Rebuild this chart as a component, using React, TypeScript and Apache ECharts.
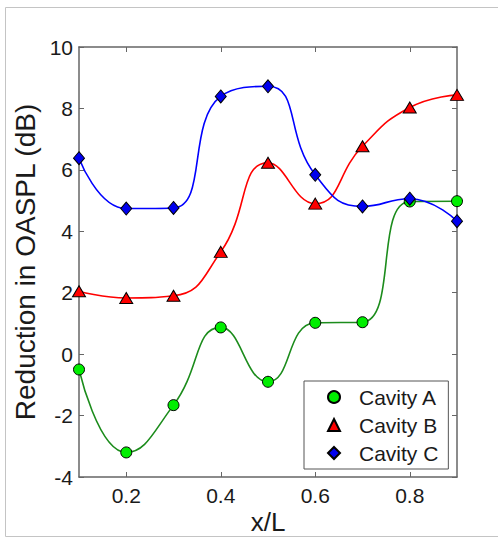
import React, { useEffect, useRef } from "react";
import * as echarts from "echarts";

const xValues = [0.1, 0.2, 0.3, 0.4, 0.5, 0.6, 0.7, 0.8, 0.9];
const cavityA = [-0.5, -3.2, -1.66, 0.87, -0.9, 1.02, 1.04, 4.97, 4.98];
const cavityB = [2.05, 1.83, 1.9, 3.33, 6.23, 4.9, 6.77, 8.03, 8.44];
const cavityC = [6.38, 4.74, 4.76, 8.39, 8.72, 5.84, 4.81, 5.06, 4.33];
const xTicks = [0.2, 0.4, 0.6, 0.8];
const seriesNames = ["Cavity A", "Cavity B", "Cavity C"];

const FONT = "Liberation Sans, Arial, Helvetica, sans-serif";

export default function App() {
  const ref = useRef<HTMLDivElement>(null);
  useEffect(() => {
    if (!ref.current) return;
    const chart = echarts.init(ref.current, null, { renderer: "svg" });
    const pairs = (ys: number[]) => xValues.map((x, i) => [x, ys[i]]);
    const axisColor = "#666666";
    const gridL = 79, gridT = 47, gridR = 41, gridB = 61;
    const baseX = {
      type: "value",
      min: 0.1,
      max: 0.9,
      splitLine: { show: false },
      axisLine: { onZero: false, lineStyle: { color: axisColor, width: 1.5 } },
      axisTick: { inside: true, length: 5, customValues: xTicks, lineStyle: { color: axisColor } },
    };
    const baseY = {
      type: "value",
      min: -4,
      max: 10,
      interval: 2,
      splitLine: { show: false },
      axisLine: { onZero: false, lineStyle: { color: axisColor, width: 1.5 } },
      axisTick: { inside: true, length: 5, lineStyle: { color: axisColor } },
    };
    const mk = (name: string, data: number[], line: string, fill: string, symbol: string, size: any) => ({
      name,
      type: "line",
      data: pairs(data),
      smooth: 0.5,
      symbol,
      symbolSize: size,
      showSymbol: true,
      lineStyle: { color: line, width: 1.6 },
      itemStyle: { color: fill, borderColor: "#000", borderWidth: 1 },
      emphasis: { disabled: true },
    });
    chart.setOption({
      animation: false,
      backgroundColor: "#ffffff",
      grid: { left: gridL, top: gridT, right: gridR, bottom: gridB },
      xAxis: [
        {
          ...baseX,
          position: "bottom",
          axisLabel: {
            customValues: xTicks,
            formatter: (v: number) => v.toFixed(1),
            color: "#1a1a1a",
            fontSize: 21,
            fontFamily: FONT,
            margin: 8,
          },
        },
        { ...baseX, position: "top", axisLabel: { show: false } },
      ],
      yAxis: [
        {
          ...baseY,
          position: "left",
          axisLabel: { color: "#1a1a1a", fontSize: 21, fontFamily: FONT, margin: 6 },
        },
        { ...baseY, position: "right", axisLabel: { show: false } },
      ],
      legend: {
        orient: "vertical",
        left: 304,
        top: 381,
        padding: [5, 10, 5, 23],
        itemGap: 6,
        itemWidth: 12,
        itemHeight: 12,
        backgroundColor: "#ffffff",
        borderColor: "#555555",
        borderWidth: 1,
        borderRadius: 0,
        data: [
          { name: seriesNames[0], icon: "circle" },
          { name: seriesNames[1], icon: "triangle" },
          { name: seriesNames[2], icon: "diamond" },
        ],
        textStyle: {
          color: "#1a1a1a",
          fontSize: 21,
          fontFamily: FONT,
          lineHeight: 22,
          padding: [0, 0, 0, 14],
        },
      },
      graphic: [
        {
          type: "rect",
          silent: true,
          shape: { x: 5.5, y: 7.5, width: 500, height: 529 },
          style: { fill: "none", stroke: "#c4c4c4", lineWidth: 1 },
          z: -10,
        },
        {
          type: "text",
          x: 25,
          y: 262,
          rotation: Math.PI / 2,
          style: {
            text: "Reduction in OASPL (dB)",
            fontSize: 28,
            fontFamily: FONT,
            fill: "#1a1a1a",
            textAlign: "center",
            textVerticalAlign: "middle",
          },
        },
        {
          type: "text",
          x: 268,
          y: 522,
          style: {
            text: "x/L",
            fontSize: 26,
            fontFamily: FONT,
            fill: "#1a1a1a",
            textAlign: "center",
            textVerticalAlign: "middle",
          },
        },
      ],
      series: [
        mk(seriesNames[0], cavityA, "#1c8c1c", "#00ee00", "circle", 11),
        mk(seriesNames[1], cavityB, "#ff0000", "#ff0000", "triangle", [13, 11]),
        mk(seriesNames[2], cavityC, "#0000ff", "#0000ee", "diamond", [11, 13]),
      ],
    });
    return () => chart.dispose();
  }, []);
  return (
    <div
      ref={ref}
      style={{ position: "absolute", left: 0, top: 0, width: 498, height: 538 }}
    />
  );
}
